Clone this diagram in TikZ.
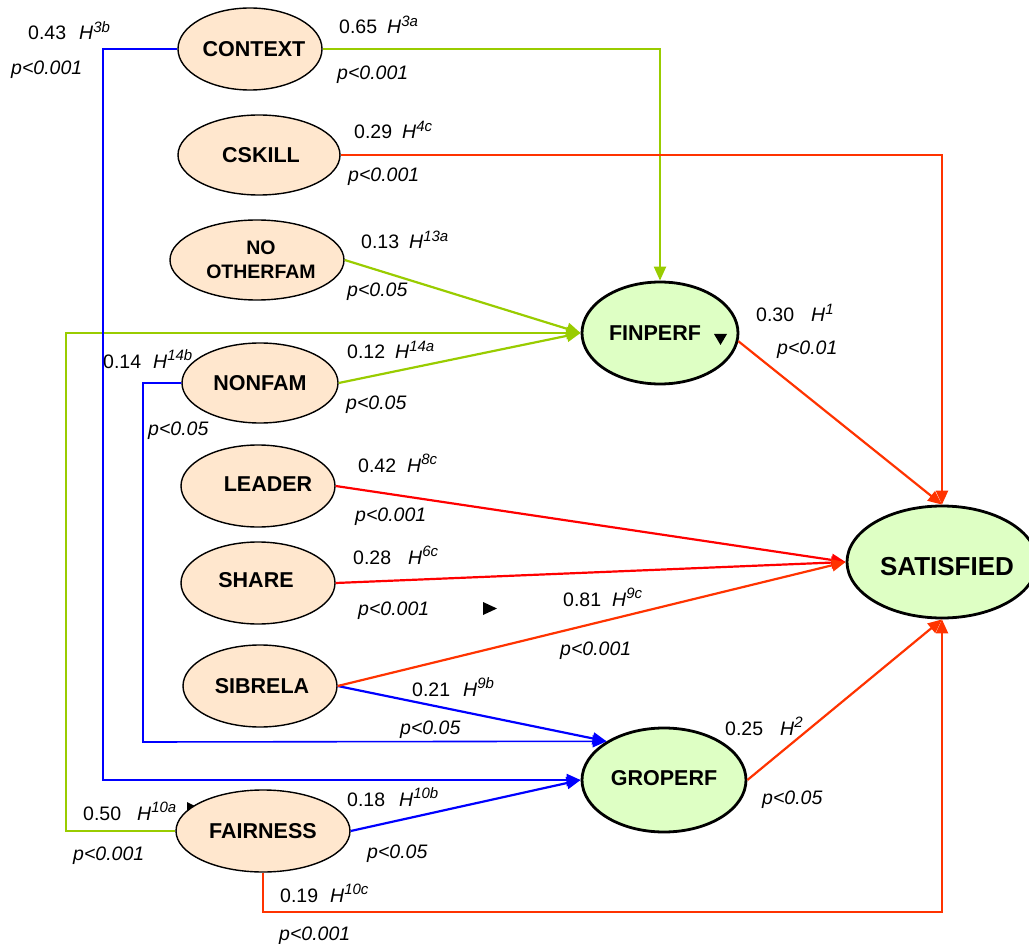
\documentclass[tikz,border=0pt]{standalone}
\usepackage{fontspec}
\setmainfont{Liberation Sans}
\usetikzlibrary{shapes.geometric,arrows.meta}

\definecolor{pathgreen}{RGB}{153,204,0}
\definecolor{pathorange}{RGB}{255,51,0}
\definecolor{pathred}{RGB}{255,0,0}
\definecolor{pathblue}{RGB}{0,0,255}
\definecolor{srcfill}{RGB}{255,231,206}
\definecolor{outfill}{RGB}{222,255,196}

% hypothesis label: italic H with raised italic index
\newcommand{\hyp}[1]{\textit{H}\raisebox{7.5pt}{\fontsize{15}{15}\selectfont\itshape #1}}
% coefficient followed by its hypothesis, with a gap in pt
\newcommand{\coef}[3]{#2\hspace{#1pt}\hyp{#3}}

\tikzset{
  srcnode/.style={ellipse, draw=black, line width=1.4pt, fill=srcfill, inner sep=0pt},
  outnode/.style={ellipse, draw=black, line width=2.8pt, fill=outfill, inner sep=0pt},
  ntext/.style={font=\fontsize{21.5}{24}\selectfont\bfseries, inner sep=0pt, align=center},
  lbl/.style={anchor=base west, inner sep=0pt, font=\fontsize{19.5}{22}\selectfont},
  conn/.style={line width=2.2pt, -{Triangle[length=14pt,width=12pt]}},
}

\begin{document}
\begin{tikzpicture}[x=1pt,y=-1pt]
\useasboundingbox (0,0) rectangle (1029,944);

% bend points of the routed connectors
\coordinate (ctxbend) at (103,780);
\coordinate (nfbend) at (143,742);
\coordinate (fairbend) at (66,333);
\coordinate (satbend) at (942,912);

% small marker partly hidden by the FAIRNESS ellipse
\fill (187,802) -- (199,808) -- (187,814) -- cycle;

% source constructs
\node[srcnode, minimum width=144, minimum height=82, label={[ntext, xshift=4pt]center:CONTEXT}] (context) at (250,49) {};
\node[srcnode, minimum width=162, minimum height=80, label={[ntext, xshift=2pt]center:CSKILL}] (cskill) at (259,155) {};
\node[srcnode, minimum width=174, minimum height=80, label={[ntext, font=\fontsize{19.5}{24}\selectfont\bfseries, xshift=4pt]center:NO\\OTHERFAM}] (noother) at (257,260) {};
\node[srcnode, minimum width=156, minimum height=80, label={[ntext]center:NONFAM}] (nonfam) at (260,383) {};
\node[srcnode, minimum width=154, minimum height=82, label={[ntext, xshift=10pt, yshift=2pt]center:LEADER}] (leader) at (258,486) {};
\node[srcnode, minimum width=154, minimum height=82, label={[ntext, xshift=-2pt, yshift=3pt]center:SHARE}] (share) at (258,583) {};
\node[srcnode, minimum width=154, minimum height=82, label={[ntext, xshift=2pt]center:SIBRELA}] (sibrela) at (260,686) {};
\node[srcnode, minimum width=174, minimum height=82, label={[ntext]center:FAIRNESS}] (fairness) at (263,831) {};

% outcome constructs
\node[outnode, minimum width=156, minimum height=102, label={[ntext, xshift=-5pt]center:FINPERF}] (finperf) at (660,333) {};
\node[outnode, minimum width=164, minimum height=104, label={[ntext, yshift=2pt]center:GROPERF}] (groperf) at (664,780) {};
\node[outnode, minimum width=190, minimum height=112, label={[ntext, font=\fontsize{26}{28}\selectfont\bfseries, xshift=5pt, yshift=-5pt]center:SATISFIED}] (satisfied) at (942,562) {};

% paths to FINPERF
\draw[conn, pathgreen] (context.east) -| (finperf.north);
\draw[conn, pathgreen] (noother.east) -- (finperf.west);
\draw[conn, pathgreen] (nonfam.east) -- (finperf.west);
\draw[conn, pathgreen] (fairness.west) -| (fairbend) -- (finperf.west);

% paths to GROPERF
\draw[conn, pathblue] (context.west) -| (ctxbend) -- (groperf.west);
\draw[conn, pathblue, line width=1.6pt] (nonfam.west) -| (nfbend) -- (groperf.146);
\draw[conn, pathblue] (sibrela.east) -- (groperf.146);
\draw[conn, pathblue] (fairness.east) -- (groperf.west);

% paths to SATISFIED
\draw[conn, pathorange] (cskill.east) -| (satisfied.north);
\draw[conn, pathorange] (finperf.-6) -- (satisfied.north);
\draw[conn, pathred] (leader.east) -- (satisfied.west);
\draw[conn, pathred] (share.east) -- (satisfied.west);
\draw[conn, pathorange] (sibrela.east) -- (satisfied.west);
\draw[conn, pathorange] (groperf.east) -- (satisfied.south);
\draw[conn, pathorange] (fairness.south) |- (satbend) -- (satisfied.south);

% small markers
\fill (714,334) -- (727,334) -- (720.5,345) -- cycle;
\fill (483,602) -- (497,608.5) -- (483,615) -- cycle;

% coefficients and significance levels
\node[lbl] (c1) at (28,40) {\coef{13}{0.43}{3b}};
\node[lbl] (p1) at (11,75) {\textit{p<0.001}};
\node[lbl] (c2) at (339,34) {\coef{10}{0.65}{3a}};
\node[lbl] (p2) at (337,80) {\textit{p<0.001}};
\node[lbl] (c3) at (354,139) {\coef{10}{0.29}{4c}};
\node[lbl] (p3) at (348,182) {\textit{p<0.001}};
\node[lbl] (c4) at (361,249) {\coef{10}{0.13}{13a}};
\node[lbl] (p4) at (347,297) {\textit{p<0.05}};
\node[lbl] (c5) at (756,322) {\coef{17}{0.30}{1}};
\node[lbl] (p5) at (777,354) {\textit{p<0.01}};
\node[lbl] (c6) at (103,368) {\coef{12}{0.14}{14b}};
\node[lbl] (p6) at (148,435) {\textit{p<0.05}};
\node[lbl] (c7) at (347,359) {\coef{10}{0.12}{14a}};
\node[lbl] (p7) at (346,409) {\textit{p<0.05}};
\node[lbl] (c8) at (358,472) {\coef{11}{0.42}{8c}};
\node[lbl] (p8) at (355,521) {\textit{p<0.001}};
\node[lbl] (c9) at (353,564) {\coef{17}{0.28}{6c}};
\node[lbl] (p9) at (358,615) {\textit{p<0.001}};
\node[lbl] (c10) at (563,606) {\coef{11}{0.81}{9c}};
\node[lbl] (p10) at (560,655) {\textit{p<0.001}};
\node[lbl] (c11) at (412,696) {\coef{13}{0.21}{9b}};
\node[lbl] (p11) at (400,734) {\textit{p<0.05}};
\node[lbl] (c12) at (725,735) {\coef{17}{0.25}{2}};
\node[lbl] (p12) at (762,804) {\textit{p<0.05}};
\node[lbl] (c13) at (83,820) {\coef{16}{0.50}{10a}};
\node[lbl] (p13) at (73,860) {\textit{p<0.001}};
\node[lbl] (c14) at (347,806) {\coef{14}{0.18}{10b}};
\node[lbl] (p14) at (367,858) {\textit{p<0.05}};
\node[lbl] (c15) at (280,902) {\coef{12}{0.19}{10c}};
\node[lbl] (p15) at (279,940) {\textit{p<0.001}};
\end{tikzpicture}
\end{document}
